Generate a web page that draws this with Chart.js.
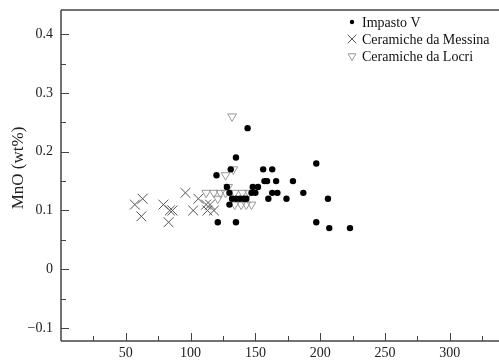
<!DOCTYPE html>
<html><head><meta charset="utf-8">
<script src="https://cdn.jsdelivr.net/npm/chart.js@4/dist/chart.umd.min.js"></script>
<style>html,body{margin:0;padding:0;background:#fff;overflow:hidden;}#wrap{width:499px;height:360px;}canvas{display:block;}</style>
</head><body><div id="wrap"><canvas id="c" width="499" height="360"></canvas></div>
<script>
// ---- data ----
const impastoX = [144,135,197,131,156,163,120,157,159,166,179,128,148,152,130,147,150,163,167,187,132,135,138,141,143,160,174,206,130,121,135,197,207,223];
const impastoY = [0.24,0.19,0.18,0.17,0.17,0.17,0.16,0.15,0.15,0.15,0.15,0.14,0.14,0.14,0.13,0.13,0.13,0.13,0.13,0.13,0.12,0.12,0.12,0.12,0.12,0.12,0.12,0.12,0.11,0.08,0.08,0.08,0.07,0.07];
const messinaX = [57,63,62,79,83,84,86,96,102,106,112,115,113,118];
const messinaY = [0.11,0.12,0.09,0.11,0.08,0.10,0.10,0.13,0.10,0.12,0.11,0.11,0.10,0.10];
const locriX = [132,133,127,129,112,118,123,127,134,140,145,121,134,139,143,147];
const locriY = [0.26,0.17,0.16,0.14,0.13,0.13,0.13,0.13,0.13,0.13,0.13,0.12,0.11,0.11,0.11,0.11];
const seriesNames = ['Impasto V','Ceramiche da Messina','Ceramiche da Locri'];
const xTickValues = [50,100,150,200,250,300];
const yTickValues = [-0.1,0,0.1,0.2,0.3,0.4];
const yAxisTitle = 'MnO (wt%)';

const toPts = (xs, ys) => xs.map((x, i) => ({x: x, y: ys[i]}));
const FONT = '"Liberation Serif", "Times New Roman", serif';
const AXIS = '#444';

const framePlugin = {
  id: 'frame',
  afterDraw(chart) {
    const ctx = chart.ctx, a = chart.chartArea;
    const xs = chart.scales.x, ys = chart.scales.y;
    ctx.save();
    ctx.strokeStyle = AXIS; ctx.lineWidth = 1.5;
    ctx.beginPath();
    ctx.moveTo(a.left, a.top); ctx.lineTo(a.right, a.top);
    ctx.moveTo(a.left, a.top); ctx.lineTo(a.left, a.bottom);
    ctx.moveTo(a.left, a.bottom); ctx.lineTo(a.right, a.bottom);
    ctx.stroke();
    ctx.lineWidth = 1;
    ctx.beginPath();
    for (let v = 25; v < xs.max; v += 25) {
      const px = Math.round(xs.getPixelForValue(v)) + 0.5;
      const len = (v % 50 === 0) ? 8 : 5;
      ctx.moveTo(px, a.bottom); ctx.lineTo(px, a.bottom - len);
    }
    for (let k = -2; k <= 8; k++) {
      const v = k * 0.05;
      if (v < ys.min || v > ys.max) continue;
      const py = Math.round(ys.getPixelForValue(v)) + 0.5;
      const len = (k % 2 === 0) ? 8 : 5;
      ctx.moveTo(a.left, py); ctx.lineTo(a.left + len, py);
    }
    ctx.stroke();
    // y axis title
    ctx.fillStyle = '#222';
    ctx.font = '17px ' + FONT;
    ctx.textAlign = 'center'; ctx.textBaseline = 'middle';
    ctx.translate(19, 168); ctx.rotate(-Math.PI / 2);
    ctx.fillText(yAxisTitle, 0, 0);
    ctx.restore();
    // legend
    ctx.save();
    const rows = [22, 39, 56];
    chart.data.datasets.forEach((ds, i) => {
      const lo = {pointStyle: ds.pointStyle, rotation: ds.rotation || 0, radius: ds.legendRadius, borderWidth: ds.borderWidth};
      ctx.fillStyle = ds.backgroundColor; ctx.strokeStyle = ds.borderColor; ctx.lineWidth = ds.borderWidth;
      Chart.helpers.drawPoint(ctx, lo, 352, rows[i]);
      ctx.fillStyle = '#111'; ctx.font = '14px ' + FONT;
      ctx.textAlign = 'left'; ctx.textBaseline = 'middle';
      ctx.fillText(ds.label, 362, rows[i] + 1);
    });
    ctx.restore();
  }
};

new Chart(document.getElementById('c'), {
  type: 'scatter',
  data: {
    datasets: [
      {label: seriesNames[0], data: toPts(impastoX, impastoY), pointStyle: 'circle', pointRadius: 3.2, pointHoverRadius: 3.2,
       backgroundColor: '#000', borderColor: '#000', borderWidth: 0, legendRadius: 2.2, order: 0},
      {label: seriesNames[1], data: toPts(messinaX, messinaY), pointStyle: 'crossRot', pointRadius: 7, pointHoverRadius: 7,
       backgroundColor: 'rgba(0,0,0,0)', borderColor: '#555', borderWidth: 1, legendRadius: 6, order: 2},
      {label: seriesNames[2], data: toPts(locriX, locriY), pointStyle: 'triangle', rotation: 180, pointRotation: 180, pointRadius: 5, pointHoverRadius: 5,
       backgroundColor: 'rgba(0,0,0,0)', borderColor: '#999', borderWidth: 1, legendRadius: 4.5, order: 1}
    ]
  },
  options: {
    responsive: false, animation: false, devicePixelRatio: 1,
    layout: {autoPadding: false, padding: {top: 10, right: 0, left: 0, bottom: 0}},
    plugins: {legend: {display: false}, tooltip: {enabled: false}},
    scales: {
      x: {
        type: 'linear', min: 0, max: 338,
        grid: {display: false, drawTicks: false}, border: {display: false},
        afterBuildTicks: s => { s.ticks = xTickValues.map(v => ({value: v})); },
        afterFit: s => { s.height = 19; s.paddingLeft = 0; s.paddingRight = 0; s.paddingTop = 0; s.paddingBottom = 0; },
        ticks: {font: {family: FONT, size: 14}, color: '#222', padding: 4, maxRotation: 0, autoSkip: false,
                callback: v => String(v)}
      },
      y: {
        type: 'linear', min: -0.122, max: 0.441,
        grid: {display: false, drawTicks: false}, border: {display: false},
        afterBuildTicks: s => { s.ticks = yTickValues.map(v => ({value: v})); },
        afterFit: s => { s.width = 61; s.paddingLeft = 0; s.paddingRight = 0; s.paddingTop = 0; s.paddingBottom = 0; },
        ticks: {font: {family: FONT, size: 14}, color: '#222', padding: 8, autoSkip: false,
                callback: v => { const r = Math.round(v * 10) / 10; return r === 0 ? '0' : (r < 0 ? '\u2212' + Math.abs(r) : String(r)); }}
      }
    }
  },
  plugins: [framePlugin]
});
</script></body></html>
